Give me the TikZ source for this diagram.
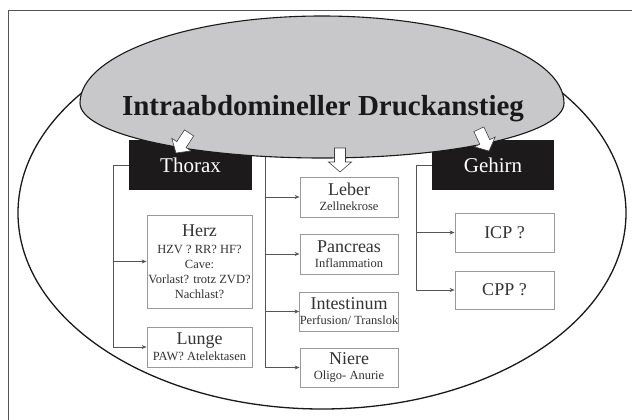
\documentclass[tikz,border=0pt]{standalone}
\usepackage{fontspec}
\setmainfont{Liberation Serif}
\usetikzlibrary{arrows.meta}
\definecolor{ellgray}{HTML}{C8C8CA}
\definecolor{boxblack}{HTML}{1C1A1B}
\definecolor{txtgray}{HTML}{333333}
\definecolor{linegray}{HTML}{555555}
\newcommand{\blockarr}[3]{%
  \begin{scope}[shift={(#1,#2)}, rotate=#3]
    \draw[barrow] (0,0) -- (-11.5,-10) -- (-5.5,-10) -- (-5.5,-24) -- (5.5,-24) -- (5.5,-10) -- (11.5,-10) -- cycle;
  \end{scope}}
\begin{document}
\begin{tikzpicture}[x=1pt,y=-1pt,
  wbox/.style={draw=black!40, line width=0.8pt, fill=white, inner sep=0pt, align=center,
    text=txtgray, font=\fontsize{12.5}{15}\selectfont},
  bbox/.style={fill=boxblack, text=white, inner sep=0pt, font=\fontsize{21}{24}\selectfont,
    minimum height=50pt},
  conn/.style={draw=linegray, line width=0.9pt, -{Stealth[length=5pt,width=4pt]}},
  bline/.style={draw=linegray, line width=0.9pt},
  barrow/.style={draw=black!75, line width=0.6pt, fill=white, line join=miter},
  big/.style={font=\fontsize{18}{18}\selectfont}]
\useasboundingbox (0,0) rectangle (632,420);
% frame
\draw[linegray, line width=0.8pt] (8,420) -- (8,10) -- (632,10);
% outer ellipse
\draw[black!90, line width=1.3pt] (322,213) ellipse [x radius=304pt, y radius=196pt];
% black boxes
\node[bbox, minimum width=123pt] (thorax) at (190.5,165) {Thorax};
\node[bbox, minimum width=122pt] (gehirn) at (493,165) {Gehirn};
% coordinates for bracket lines
\coordinate (tl) at (113,165);
\coordinate (ct) at (265,140);
\coordinate (gl) at (416,165);
% white boxes
\node[wbox, minimum width=105pt, minimum height=93pt] (herz) at (199.5,261.5)
  {{\fontsize{18}{18}\selectfont Herz}\\[2pt]HZV ? RR? HF?\\Cave:\\Vorlast? trotz ZVD?\\Nachlast?};
\node[wbox, minimum width=105pt, minimum height=40pt] (lunge) at (199.5,347)
  {{\fontsize{18}{18}\selectfont Lunge}\\[1pt]PAW? Atelektasen};
\node[wbox, minimum width=98pt, minimum height=40pt] (leber) at (349,197)
  {{\fontsize{18}{18}\selectfont Leber}\\Zellnekrose};
\node[wbox, minimum width=98pt, minimum height=40pt] (pancreas) at (349,254)
  {{\fontsize{18}{18}\selectfont Pancreas}\\Inflammation};
\node[wbox, minimum width=98pt, minimum height=39pt] (intestinum) at (349,311.5)
  {{\fontsize{18}{18}\selectfont Intestinum}\\Perfusion/ Translok};
\node[wbox, minimum width=98pt, minimum height=39pt] (niere) at (349,367.5)
  {{\fontsize{18}{18}\selectfont Niere}\\Oligo- Anurie};
\node[wbox, minimum width=99pt, minimum height=39pt, font=\fontsize{18}{18}\selectfont] (icp) at (504.5,232.5) {ICP ?};
\node[wbox, minimum width=99pt, minimum height=38pt, font=\fontsize{18}{18}\selectfont] (cpp) at (504.5,290) {CPP ?};
% connectors
\draw[bline] (thorax.west) -- (tl);
\draw[conn] (tl) |- (herz.west);
\draw[conn] (tl) |- (lunge.west);
\draw[conn] (ct) |- (leber.west);
\draw[conn] (ct) |- (pancreas.west);
\draw[conn] (ct) |- (intestinum.west);
\draw[conn] (ct) |- (niere.west);
\draw[bline] (gehirn.west) -- (gl);
\draw[conn] (gl) |- (icp.west);
\draw[conn] (gl) |- (cpp.west);
% gray ellipse
\path[fill=ellgray, draw=black!90, line width=1.1pt] (80,103)
  arc[start angle=180, end angle=0, x radius=242pt, y radius=87pt]
  arc[start angle=0, end angle=-180, x radius=242pt, y radius=55pt] -- cycle;
\node[font=\bfseries\fontsize{29}{30}\selectfont, text=black!90, anchor=base] (title) at (323,115)
  {Intraabdomineller Druckanstieg};
% block arrows
\blockarr{176}{153}{-33}
\blockarr{340}{172}{0}
\blockarr{489}{151}{25}
\end{tikzpicture}
\end{document}
